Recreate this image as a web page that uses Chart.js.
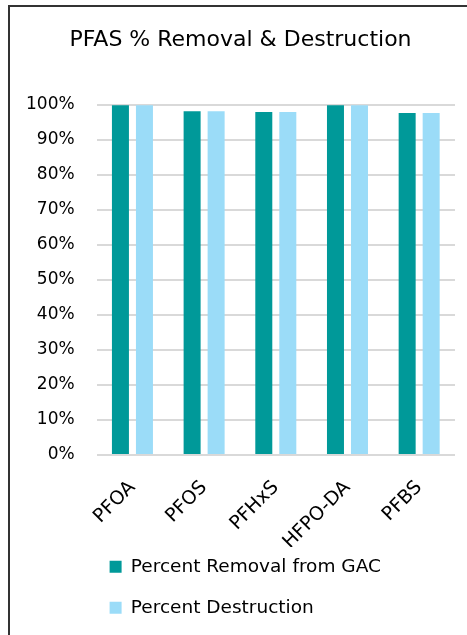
<!DOCTYPE html>
<html>
<head>
<meta charset="utf-8">
<script src="https://cdn.jsdelivr.net/npm/chart.js@4/dist/chart.umd.min.js"></script>
<style>
  html, body { margin: 0; padding: 0; background: #ffffff; overflow: hidden; }
  #frame { position: absolute; left: 8px; top: 5px; width: 600px; height: 800px; border: 2px solid #333333; box-sizing: border-box; }
  #wrap { position: absolute; left: 0; top: 0; width: 467px; height: 635px; }
</style>
</head>
<body>
<div id="frame"></div>
<div id="wrap"><canvas id="c" width="467" height="635"></canvas></div>
<script>
const categories = ['PFOA', 'PFOS', 'PFHxS', 'HFPO-DA', 'PFBS'];
const removalFromGAC = [99.9, 98.2, 98.0, 99.9, 97.7];
const destruction = [99.9, 98.2, 98.0, 99.9, 97.7];
const seriesNames = ['Percent Removal from GAC', 'Percent Destruction'];
const chartTitle = 'PFAS % Removal & Destruction';

const FONT = "'DejaVu Sans', 'Liberation Sans', sans-serif";

// Nudge the legend block so that it sits a little higher and further left,
// like the original's vertical legend.
const legendShift = {
  id: 'legendShift',
  afterLayout(chart) {
    const l = chart.legend;
    if (l) {
      l.left -= 9.5; l.right -= 9.5;
      l.top -= 12; l.bottom -= 12;
    }
  }
};

new Chart(document.getElementById('c'), {
  type: 'bar',
  data: {
    labels: categories,
    datasets: [
      { label: seriesNames[0], data: removalFromGAC, backgroundColor: '#009999', borderWidth: 0,
        barPercentage: 0.708, categoryPercentage: 0.67 },
      { label: seriesNames[1], data: destruction, backgroundColor: '#9BDCF8', borderWidth: 0,
        barPercentage: 0.708, categoryPercentage: 0.67 }
    ]
  },
  options: {
    responsive: false,
    animation: false,
    devicePixelRatio: 1,
    layout: { padding: { top: 0, left: 26, right: 12, bottom: 8 } },
    plugins: {
      title: {
        display: true,
        text: chartTitle,
        color: '#000000',
        font: { family: FONT, size: 22, weight: 'normal' },
        padding: { top: 27, bottom: 51.6 }
      },
      legend: {
        position: 'bottom',
        align: 'start',
        fullSize: false,
        maxHeight: 80,
        labels: {
          boxWidth: 12,
          boxHeight: 12,
          padding: 22.5,
          color: '#000000',
          font: { family: FONT, size: 18.5 }
        }
      },
      tooltip: { enabled: false }
    },
    scales: {
      x: {
        grid: { display: false, drawTicks: false },
        border: { display: false },
        ticks: {
          color: '#000000',
          font: { family: FONT, size: 19 },
          minRotation: 45,
          maxRotation: 45,
          padding: 21.5,
          autoSkip: false
        },
        afterFit: (s) => { s.height = 92; s.paddingLeft = 0; s.paddingRight = 0; }
      },
      y: {
        min: 0,
        max: 100,
        grid: { color: '#D9D9D9', lineWidth: 2, drawTicks: false },
        border: { display: false },
        ticks: {
          stepSize: 10,
          color: '#000000',
          font: { family: FONT, size: 17 },
          padding: 22,
          callback: (v) => v + '%'
        },
        afterFit: (s) => { s.width -= 22; }
      }
    }
  },
  plugins: [legendShift]
});
</script>
</body>
</html>
